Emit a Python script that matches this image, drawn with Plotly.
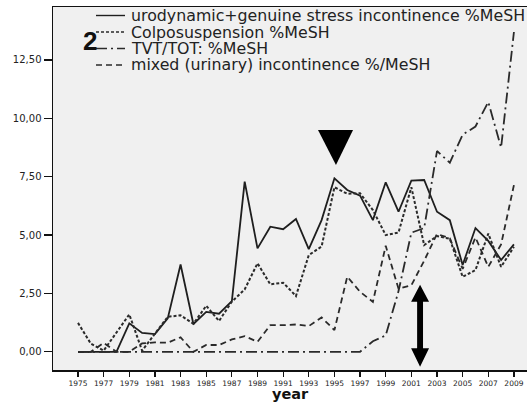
import plotly.graph_objects as go

# ---------------- data ----------------
years = list(range(1975, 2010))

uro = [0, 0, 0, 0, 1.22, 0.81, 0.76, 1.43, 3.74, 1.19,
       1.71, 1.63, 2.17, 7.29, 4.43, 5.36, 5.25, 5.69, 4.40, 5.64,
       7.43, 6.93, 6.69, 5.64, 7.26, 6.00, 7.33, 7.36, 6.00, 5.64,
       3.72, 5.30, 4.75, 3.93, 4.60]

colpo = [1.24, 0.35, 0.05, 0.82, 1.60, 0.05, 0.75, 1.50, 1.56, 1.20,
         1.97, 1.32, 2.15, 2.67, 3.79, 2.89, 2.96, 2.39, 4.14, 4.51,
         7.05, 6.77, 6.79, 6.07, 5.00, 5.11, 7.05, 4.57, 4.96, 4.84,
         3.21, 3.50, 5.06, 3.64, 4.50]

tvt = [0] * 23 + [0.45, 0.70, 2.60, 5.10, 5.30, 8.60, 8.10, 9.30, 9.65, 10.70, 8.75, 13.70]

mixed = [0, 0, 0.38, 0, 0, 0.36, 0.40, 0.39, 0.62, 0,
         0.29, 0.29, 0.53, 0.67, 0.43, 1.14, 1.14, 1.17, 1.10, 1.47,
         0.93, 3.22, 2.57, 2.14, 4.54, 2.70, 2.85, 3.90, 5.05, 4.86,
         3.55, 4.90, 3.64, 4.60, 7.14]

series_names = [
    "urodynamic+genuine stress incontinence %MeSH",
    "Colposuspension %MeSH",
    "TVT/TOT: %MeSH",
    "mixed (urinary) incontinence %/MeSH",
]

y_tickvals = [0, 2.5, 5, 7.5, 10, 12.5]
y_ticktext = ["0,00", "2,50", "5,00", "7,50", "10,00", "12,50"]
x_tickvals = list(range(1975, 2010, 2))
x_ticktext = [str(v) for v in x_tickvals]

# ---------------- geometry ----------------
W, H = 527, 402
ML, MR, MT, MB = 53, 0, 7, 32
PW, PH = W - ML - MR, H - MT - MB

styles = [
    dict(color="#1e1e1e", width=1.8, dash="solid"),
    dict(color="#2a2a2a", width=2.0, dash="3px,2px"),
    dict(color="#2a2a2a", width=1.8, dash="11px,4px,2px,4px"),
    dict(color="#2a2a2a", width=1.8, dash="6px,4px"),
]

fig = go.Figure()
for name, vals, st in zip(series_names, [uro, colpo, tvt, mixed], styles):
    fig.add_trace(go.Scatter(x=years, y=vals, mode="lines", name=name,
                             line=st, showlegend=False, hoverinfo="skip"))

def px_x(page_px):
    return (page_px - ML) / PW

def px_y(page_py):
    return (H - MB - page_py) / PH

# manual legend (samples + text)
leg_rows = [15.5, 32, 48.5, 65]
shapes = []
annotations = []
for name, st, ry in zip(series_names, styles, leg_rows):
    shapes.append(dict(type="line", xref="paper", yref="paper",
                       x0=px_x(96), x1=px_x(125), y0=px_y(ry), y1=px_y(ry),
                       line=dict(color=st["color"], width=1.4, dash=st["dash"])))
    annotations.append(dict(xref="paper", yref="paper", x=px_x(129), y=px_y(ry),
                            xanchor="left", yanchor="middle", showarrow=False,
                            text=name, font=dict(family="DejaVu Sans", size=15.8, color="#222")))

# big "2" label
annotations.append(dict(xref="paper", yref="paper", x=px_x(89.5), y=px_y(41),
                        xanchor="center", yanchor="middle", showarrow=False,
                        text="<b>2</b>", font=dict(family="Liberation Sans", size=26, color="#111")))
# x axis title
annotations.append(dict(xref="paper", yref="paper", x=px_x(290), y=px_y(394),
                        xanchor="center", yanchor="middle", showarrow=False,
                        text="<b>year</b>", font=dict(family="DejaVu Sans", size=14.5, color="#111")))

# triangle marker above 1995 peak (data coords)
shapes.append(dict(type="path", xref="x", yref="y",
                   path="M 1993.72,9.50 L 1996.45,9.50 L 1995.12,8.00 Z",
                   fillcolor="#000", line=dict(width=0)))

# double-headed arrow (data coords)
ax = 2001.68
hw, sw = 0.70, 0.23
top_tip, top_base = 2.87, 2.14
bot_base, bot_tip = 0.15, -0.64
arrow_path = (f"M {ax},{top_tip} L {ax+hw},{top_base} L {ax+sw},{top_base} "
              f"L {ax+sw},{bot_base} L {ax+hw},{bot_base} L {ax},{bot_tip} "
              f"L {ax-hw},{bot_base} L {ax-sw},{bot_base} L {ax-sw},{top_base} "
              f"L {ax-hw},{top_base} Z")
shapes.append(dict(type="path", xref="x", yref="y", path=arrow_path,
                   fillcolor="#000", line=dict(width=0)))

fig.update_layout(
    width=W, height=H,
    margin=dict(l=ML, r=MR, t=MT, b=MB, pad=0),
    paper_bgcolor="white",
    plot_bgcolor="#f0f0f0",
    shapes=shapes,
    annotations=annotations,
    showlegend=False,
    hovermode=False,
    dragmode=False,
)
fig.update_xaxes(range=[1973.05, 2010.02], tickvals=x_tickvals, ticktext=x_ticktext,
                 showgrid=False, zeroline=False, showline=True, linecolor="#111",
                 linewidth=1.5, mirror=True, ticks="outside", ticklen=5, tickwidth=1.2,
                 showspikes=False,
                 tickcolor="#111", tickfont=dict(family="DejaVu Sans", size=7.5, color="#222"))
fig.update_yaxes(range=[-0.78, 14.77], tickvals=y_tickvals, ticktext=y_ticktext,
                 showgrid=False, zeroline=False, showline=True, linecolor="#111",
                 linewidth=1.5, ticks="outside", ticklen=8, tickwidth=1.2,
                 showspikes=False,
                 tickcolor="#111", tickfont=dict(family="DejaVu Sans", size=10, color="#222"))

fig.write_html(
    "out.html",
    config={"displayModeBar": False, "staticPlot": True},
    post_script="document.body.style.margin='0px';"
                "document.documentElement.style.overflow='hidden';",
)
